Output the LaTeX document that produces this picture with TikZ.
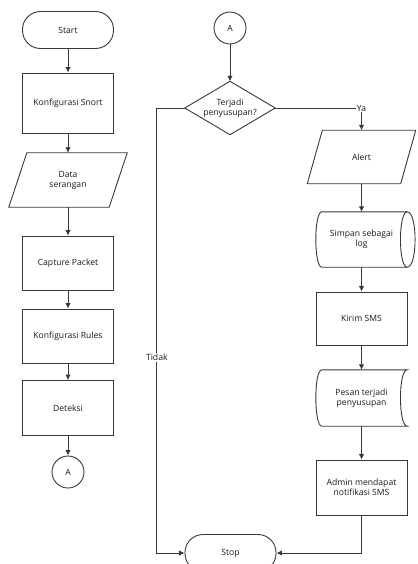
\documentclass[tikz,border=0pt]{standalone}
\usepackage{fontspec}
\setmainfont{Open Sans}
\usetikzlibrary{calc,arrows.meta}

\begin{document}
\begin{tikzpicture}
[x=1pt,y=-1pt,
  every node/.style={font=\fontsize{8.6}{10}\selectfont,align=center,inner sep=1pt,text=black!90},
  linedecorate/.style={draw=black!78,line width=0.9pt},
  termdecorate/.style={linedecorate,shape=rectangle,rounded corners=18pt},
  boxdecorate/.style={linedecorate,shape=rectangle},
  freedecorate/.style={shape=rectangle},
  conndecorate/.style={linedecorate,shape=circle},
  arrowdecorate/.style={-{Latex[length=5.5pt,width=5.5pt]},linedecorate}]

\useasboundingbox (0,0) rectangle (417,564);

%% nodes or steps
\foreach \nodename/\x/\y/\w/\h/\kind/\txt in {
  start/68/30/91/37/termdecorate/Start,
  snort/68/103/91/60/boxdecorate/Konfigurasi Snort,
  data/68/180/118/54/freedecorate/Data\\serangan,
  capture/68/263/91/54/boxdecorate/Capture Packet,
  rules/68/336/91/54/boxdecorate/Konfigurasi Rules,
  deteksi/68/408/91/55/boxdecorate/Deteksi,
  outA/68/472/32/32/conndecorate/A,
  inA/230/28/32/32/conndecorate/A,
  cek/230/108/90/53/freedecorate/Terjadi\\penyusupan?,
  alert/361.5/157/108/53/freedecorate/Alert,
  log/361.5/239.5/91/55/freedecorate/Simpan sebagai\\log,
  sms/361.5/318.5/91/53/boxdecorate/Kirim SMS,
  pesan/361.5/398/91/56/freedecorate/Pesan terjadi\\penyusupan,
  admin/361.5/487.5/91/55/boxdecorate/Admin mendapat\\notifikasi SMS,
  stop/230.5/553/91/37/termdecorate/Stop} {
  \node (\nodename) at (\x,\y) [\kind,minimum width=\w,minimum height=\h] {\txt};
}

%% outlines drawn by hand
\foreach \nodename/\slant in {data/18, alert/15} {
  \draw[linedecorate] ($(\nodename.north west)+(\slant,0)$) -- (\nodename.north east)
    -- ($(\nodename.south east)+(-\slant,0)$) -- (\nodename.south west) -- cycle;
}
\draw[linedecorate] (cek.north) -- (cek.east) -- (cek.south) -- (cek.west) -- cycle;
\draw[linedecorate] ($(log.north west)+(6,0)$) -- (log.north east)
  .. controls +(10.5,0) and +(10.5,0) .. (log.south east)
  -- ($(log.south west)+(6,0)$)
  .. controls +(-8,0) and +(-8,0) .. ($(log.north west)+(6,0)$);
\draw[linedecorate] (log.north east) .. controls +(-9,0) and +(-9,0) .. (log.south east);
\draw[linedecorate] ($(pesan.north west)+(6,0)$) -- (pesan.north east)
  .. controls +(-9,0) and +(-9,0) .. (pesan.south east)
  -- ($(pesan.south west)+(6,0)$)
  .. controls +(-8,0) and +(-8,0) .. ($(pesan.north west)+(6,0)$);

%% edges or lines
\path
\foreach \startnode/\endnode in {start/snort, snort/data, data/capture,
  capture/rules, rules/deteksi, deteksi/outA, inA/cek, alert/log,
  log/sms, sms/pesan, pesan/admin} {
  (\startnode) edge[arrowdecorate] (\endnode)
};
\draw[arrowdecorate] (cek.east) -| node[pos=0.5,fill=white] {Ya} (alert.north);
\draw[arrowdecorate] (cek.west) -- ++(-28,0) |- node[pos=0.28,fill=white] {Tidak} (stop.west);
\draw[arrowdecorate] (admin.south) |- (stop.east);
\end{tikzpicture}
\end{document}
